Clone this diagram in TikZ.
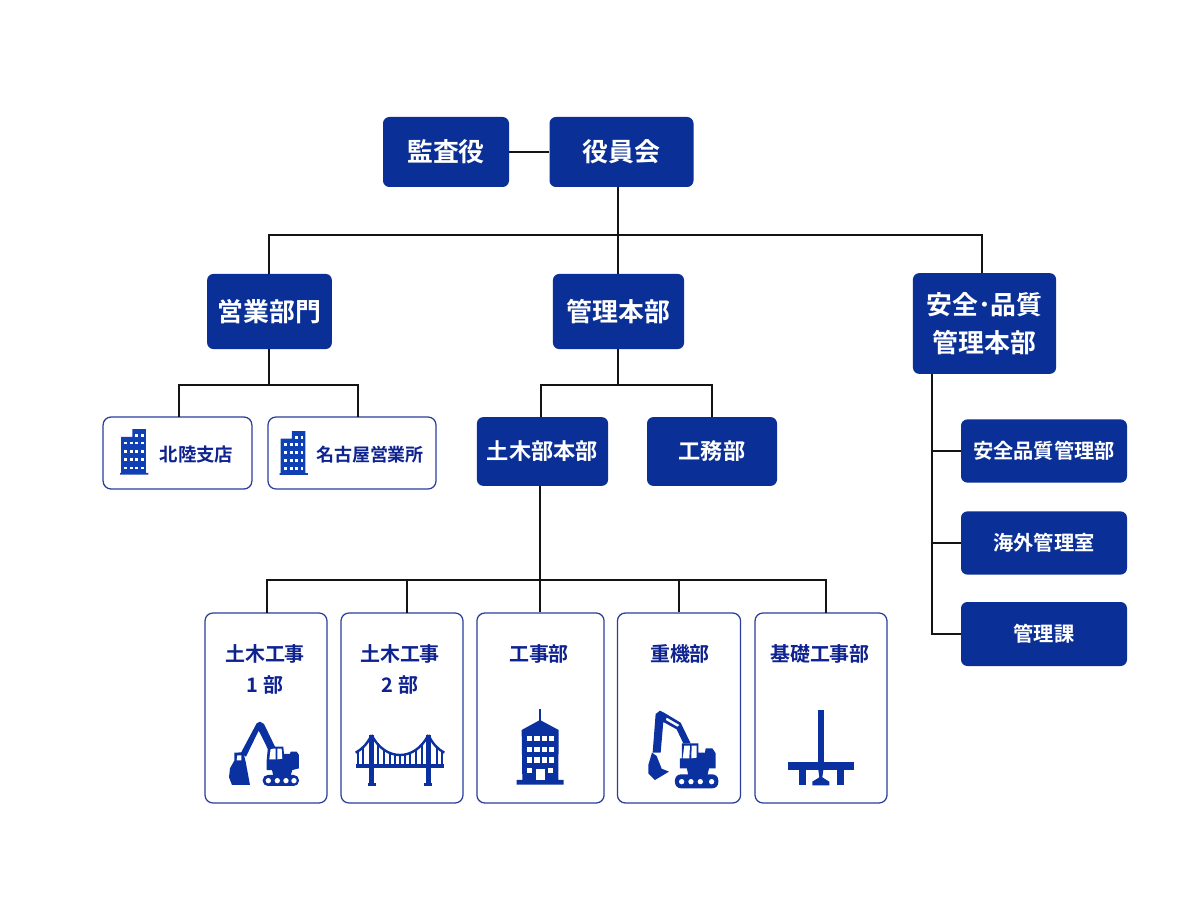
\documentclass[tikz,border=0pt]{standalone}
\usepackage{fontspec}
\setmainfont{Noto Sans CJK JP}[BoldFont={Noto Sans CJK JP Bold}]
\usetikzlibrary{calc}
\definecolor{navyfill}{HTML}{0A2F96}
\definecolor{navytext}{HTML}{0E2290}
\definecolor{cardline}{HTML}{2C3C9C}
\definecolor{iconblue}{HTML}{0B30A0}
\definecolor{officeblue}{HTML}{1041B4}
\definecolor{linegray}{HTML}{141414}
\tikzset{
  line/.style={draw=linegray, line width=1.4pt},
  navybox/.style={
    fill=navyfill,
    text=white,
    rounded corners=1.6mm,
    align=center,
    inner sep=0pt,
    font=\bfseries\fontsize{18.4pt}{27pt}\selectfont
  },
  midbox/.style={navybox, font=\bfseries\fontsize{15.8pt}{20pt}\selectfont},
  smallbox/.style={navybox, minimum width=41.5mm, font=\bfseries\fontsize{14.4pt}{20pt}\selectfont},
  whitebox/.style={draw=cardline, fill=white, rounded corners=2mm, line width=0.9pt, inner sep=0pt},
  whitetext/.style={text=navytext, align=center, inner sep=0pt, font=\bfseries\fontsize{13.1pt}{20pt}\selectfont},
  cardtext/.style={text=navytext, align=center, inner sep=0pt, anchor=north, font=\bfseries\fontsize{14.2pt}{22pt}\selectfont},
  pics/office/.style={code={
    \fill[officeblue] (3,24) -- (37,24) -- (37,0) -- (78,0) -- (78,132) -- (85,132) -- (85,137) -- (0,137) -- (0,132) -- (3,132) -- cycle;
    \foreach \wy in {42,67,92,117}
      \foreach \wx in {17,35,50,67}
        \fill[white] (\wx-4,\wy-4) rectangle (\wx+4,\wy+4);
    \foreach \wx in {50,67}
      \fill[white] (\wx-4,16) rectangle (\wx+4,24);
  }},
  pics/diggerleft/.style={code={
    \fill[iconblue, rounded corners=1.3mm] (188,255) rectangle (297,288);
    \foreach \hx in {205,232,258,282}
      \fill[white] (\hx,272) circle (8);
    \fill[iconblue] (215,235) -- (278,235) -- (272,258) -- (220,258) -- cycle;
    \fill[iconblue] (204,170) -- (250,170) -- (252,192) -- (270,192) -- (272,185) -- (290,185) -- (297,195) -- (297,235) -- (270,242) -- (200,240) -- (200,212) -- cycle;
    \fill[white] (212,176) -- (227,176) -- (227,208) -- (208,208) -- cycle;
    \fill[white] (232,176) -- (245,176) -- (247,206) -- (232,208) -- cycle;
    \fill[iconblue] (122,190) -- (170,100) -- (180,95) -- (192,102) -- (226,172) -- (205,180) -- (183,135) -- (176,122) -- (138,200) -- cycle;
    \fill[iconblue] (103,188) -- (130,187) -- (137,215) -- (150,285) -- (96,285) -- (87,262) -- (90,235) -- (103,212) -- cycle;
    \fill[white] (112,196) -- (124,196) -- (124,211) -- (110,211) -- cycle;
  }},
  pics/diggerright/.style={code={
    \fill[iconblue, rounded corners=1.5mm] (615,253) rectangle (745,295);
    \foreach \hx in {635,663,691,725}
      \fill[white] (\hx,275) circle (8);
    \fill[iconblue] (650,232) -- (718,232) -- (712,256) -- (655,256) -- cycle;
    \fill[iconblue] (636,160) -- (685,160) -- (685,188) -- (705,188) -- (707,175) -- (727,175) -- (737,190) -- (737,235) -- (630,235) -- (630,205) -- (636,205) -- cycle;
    \fill[white] (643,167) -- (660,167) -- (658,205) -- (638,205) -- cycle;
    \fill[white] (665,167) -- (680,167) -- (680,203) -- (664,205) -- cycle;
    \fill[iconblue] (557,72) -- (570,62) -- (582,68) -- (632,98) -- (662,160) -- (640,160) -- (620,118) -- (580,96) -- (572,188) -- (548,188) -- cycle;
    \fill[white] (590,83) -- (628,105) -- (622,110) -- (588,90) -- cycle;
    \fill[iconblue] (546,188) -- (560,198) -- (575,236) -- (597,245) -- (555,270) -- (535,250) -- (535,225) -- cycle;
  }},
  pics/bridge/.style={code={
    \fill[iconblue] (467,222) rectangle (733,235);
    \foreach \tx in {515,685} {
      \fill[iconblue] (\tx-7,135) rectangle (\tx+7,280);
      \fill[iconblue] (\tx-12,280) rectangle (\tx+12,287);
    }
    \draw[iconblue, line width=1.7pt] (515,135) .. controls (555,215) and (645,215) .. (685,135);
    \draw[iconblue, line width=1.7pt] (515,135) .. controls (500,165) and (485,178) .. (467,188);
    \draw[iconblue, line width=1.7pt] (685,135) .. controls (700,165) and (715,178) .. (733,188);
    \foreach \hx/\hy in {535/160,552/176,570/187,585/193,600/195,615/193,630/187,648/176,665/160,475/184,490/175,710/175,725/184}
      \draw[iconblue, line width=1.4pt] (\hx,\hy) -- (\hx,225);
  }},
  pics/tower/.style={code={
    \fill[iconblue] (208,58) rectangle (213,95);
    \fill[iconblue] (155,120) -- (210,90) -- (266,120) -- (265,270) -- (281,270) -- (281,284) -- (140,284) -- (140,270) -- (157,270) -- cycle;
    \foreach \wy in {137,170,202}
      \foreach \wx in {171,193,215,236}
        \fill[white] (\wx,\wy) rectangle (\wx+16,\wy+16);
    \fill[white] (170,235) rectangle (186,250);
    \fill[white] (235,235) rectangle (250,250);
    \fill[white] (197,238) rectangle (225,270);
  }},
  pics/pile/.style={code={
    \fill[iconblue] (203,60) rectangle (223,225);
    \fill[iconblue] (115,217) rectangle (312,240);
    \fill[iconblue] (146,240) rectangle (167,286);
    \fill[iconblue] (260,240) rectangle (281,286);
    \fill[iconblue] (205,240) -- (220,240) -- (217,262) -- (238,275) -- (238,286) -- (187,286) -- (187,275) -- (208,262) -- cycle;
  }}
}
\begin{document}
\begin{tikzpicture}[x=0.25mm,y=-0.25mm]
  \path[use as bounding box, fill=white] (0,0) rectangle (1200,900);

  % top row
  \node[navybox, minimum width=31.5mm, minimum height=17.5mm] (audit) at (446,152) {監査役};
  \node[navybox, minimum width=36mm, minimum height=17.5mm] (board) at (621.5,152) {役員会};

  % divisions
  \node[navybox, minimum width=31.2mm, minimum height=18.8mm] (sales) at (269.5,311.5) {営業部門};
  \node[navybox, minimum width=32.8mm, minimum height=18.8mm] (admin) at (618.5,311.5) {管理本部};
  \node[navybox, minimum width=35.8mm, minimum height=25.2mm] (safety) at (984.5,323.5) {安全･品質\\管理本部};

  % branch offices
  \node[whitebox, minimum width=37.2mm, minimum height=18mm] (hokuriku) at (177.5,453) {};
  \node[whitebox, minimum width=42mm, minimum height=18mm] (nagoya) at (352,453) {};
  \node[whitetext] (hokurikutext) at (196.5,455) {北陸支店};
  \node[whitetext, font=\bfseries\fontsize{12.8pt}{20pt}\selectfont] (nagoyatext) at (370,455) {名古屋営業所};
  \pic at (120,429) [scale=0.3333] {office};
  \pic at (279.5,431) [yscale=0.32, xscale=0.3333] {office};

  % admin departments
  \node[midbox, minimum width=32.8mm, minimum height=17.2mm] (civilhq) at (542.5,451.5) {土木部本部};
  \node[midbox, minimum width=32.5mm, minimum height=17.2mm] (works) at (712,451.5) {工務部};

  % safety departments
  \node[smallbox, minimum height=15.8mm] (quality) at (1044,451) {安全品質管理部};
  \node[smallbox, minimum height=15.8mm] (overseas) at (1044,543) {海外管理室};
  \node[smallbox, minimum height=16mm] (section) at (1044,634) {管理課};

  % cards
  \node[whitebox, minimum width=30.5mm, minimum height=47.5mm] (civilone) at (266,708) {};
  \node[whitebox, minimum width=30.5mm, minimum height=47.5mm] (civiltwo) at (402,708) {};
  \node[whitebox, minimum width=31.8mm, minimum height=47.5mm] (construct) at (540.5,708) {};
  \node[whitebox, minimum width=30.8mm, minimum height=47.5mm] (machine) at (679,708) {};
  \node[whitebox, minimum width=33mm, minimum height=47.5mm] (pilework) at (821,708) {};
  \node[cardtext] (civilonetext) at (265,644) {土木工事\\1 部};
  \node[cardtext] (civiltwotext) at (400,644) {土木工事\\2 部};
  \node[cardtext] (constructtext) at (539,644) {工事部};
  \node[cardtext] (machinetext) at (680,644) {重機部};
  \node[cardtext] (pileworktext) at (820,644) {基礎工事部};

  \pic at (200,690) [scale=0.3333] {diggerleft};
  \pic at (200,690) [scale=0.3333] {bridge};
  \pic at (470,690) [scale=0.3333] {tower};
  \pic at (470,690) [scale=0.3333] {diggerright};
  \pic at (750,690) [scale=0.3333] {pile};

  % junctions that are off the node centres
  \coordinate (topbus) at (618,235);
  \coordinate (salesbus) at (269,385);
  \coordinate (adminbus) at (618,385);
  \coordinate (civilbus) at (540,580);
  \coordinate (safetytrunk) at (932,374);
  \coordinate (hokurikudrop) at (179,417);
  \coordinate (nagoyadrop) at (358,417);
  \coordinate (civiltwodrop) at (407,613);
  \coordinate (piledrop) at (826,613);
  \coordinate (safetydrop) at (982,273);
  \coordinate (civilonedrop) at (267,613);
  \coordinate (civilhqdrop) at (541,417);

  \draw[line] (audit) -- (board);
  \draw[line] (topbus |- board.south) -- (admin.north -| topbus);
  \draw[line] (sales.north -| salesbus) |- (topbus) -| (safetydrop);

  \draw[line] (salesbus |- sales.south) -- (salesbus);
  \draw[line] (hokurikudrop) |- (salesbus) -| (nagoyadrop);

  \draw[line] (adminbus |- admin.south) -- (adminbus);
  \draw[line] (civilhqdrop) |- (adminbus) -| (works.north);

  \draw[line] (civilbus |- civilhq.south) -- (civilbus |- construct.north);
  \draw[line] (civilonedrop) |- (civilbus) -| (piledrop);
  \draw[line] (civiltwodrop) -- (civiltwodrop |- civilbus);
  \draw[line] (machine.north) -- (machine.north |- civilbus);

  \draw[line] (safetytrunk) |- (section.west);
  \draw[line] (safetytrunk |- quality.west) -- (quality.west);
  \draw[line] (safetytrunk |- overseas.west) -- (overseas.west);
\end{tikzpicture}
\end{document}
